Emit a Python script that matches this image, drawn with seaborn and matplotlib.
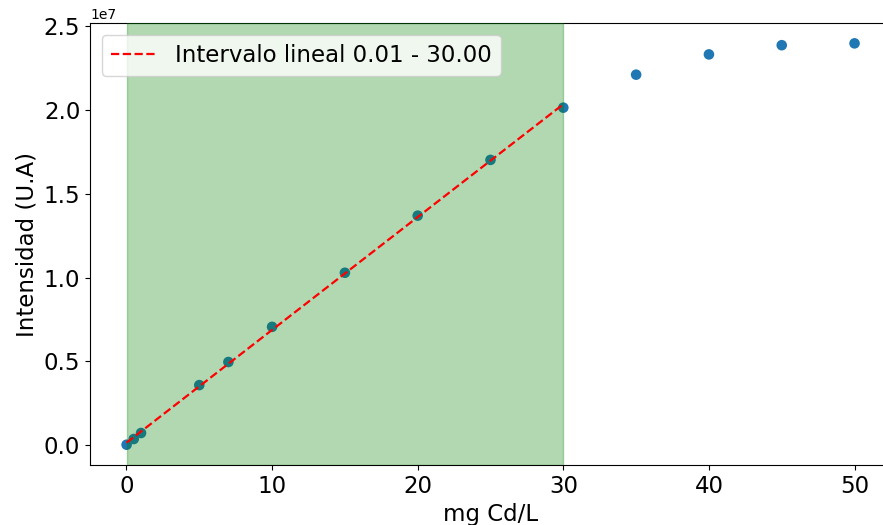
import numpy as np
import pandas as pd
import matplotlib
matplotlib.use("Agg")
import matplotlib.pyplot as plt
import seaborn as sns

# Calibration data: cadmium concentration vs. signal intensity
concentracion = [0.01, 0.5, 1, 5, 7, 10, 15, 20, 25, 30, 35, 40, 45, 50]
intensidad = [0.02e6, 0.36e6, 0.72e6, 3.58e6, 4.96e6, 7.06e6, 10.29e6,
              13.70e6, 17.03e6, 20.15e6, 22.12e6, 23.33e6, 23.88e6, 23.99e6]

lim_inf, lim_sup = 0.01, 30.00

df = pd.DataFrame({"x": concentracion, "y": intensidad})

fig = plt.figure(figsize=(8.83, 5.25), dpi=100)
ax = fig.add_axes([0.102, 0.114, 0.907, 0.842])

sns.scatterplot(data=df, x="x", y="y", ax=ax, s=58, color="#1f77b4",
                edgecolor="none", zorder=2)

ax.axvspan(lim_inf, lim_sup, color="green", alpha=0.3, zorder=3)

# least-squares line over the linear range
lin = df[(df.x >= lim_inf) & (df.x <= lim_sup)]
m, b = np.polyfit(lin.x, lin.y, 1)
xfit = np.array([lim_inf, lim_sup])
fit_df = pd.DataFrame({"x": xfit, "y": m * xfit + b})
sns.lineplot(data=fit_df, x="x", y="y", ax=ax, color="red", linestyle="--",
             linewidth=1.6, zorder=4,
             label=f"Intervalo lineal {lim_inf:.2f} - {lim_sup:.2f}")

ax.set_xlim(-2.5, 52.5)
ax.set_ylim(-1.2e6, 2.52e7)
ax.set_xticks([0, 10, 20, 30, 40, 50])
ax.set_yticks([0, 0.5e7, 1.0e7, 1.5e7, 2.0e7, 2.5e7])
ax.tick_params(labelsize=16.5)
ax.set_xlabel("mg Cd/L", fontsize=16.5)
ax.set_ylabel("Intensidad (U.A)", fontsize=16.5)
ax.legend(loc="upper left", fontsize=16.5)

fig.savefig("out.png", dpi=100)
